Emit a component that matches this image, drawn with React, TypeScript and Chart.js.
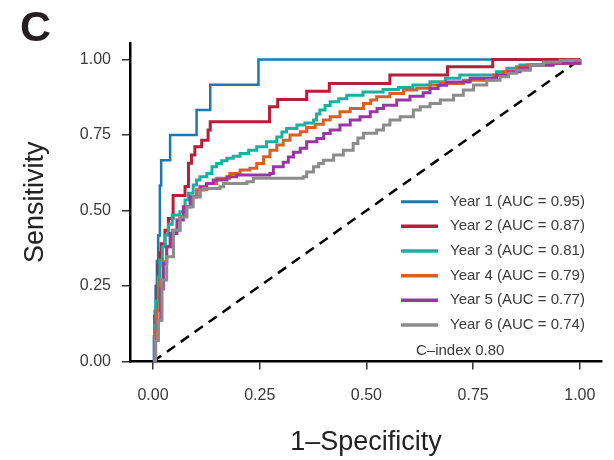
import React, { useEffect, useRef } from 'react';
import { Chart, registerables } from 'chart.js';

Chart.register(...registerables);

const FONT = "'Liberation Sans', Arial, Helvetica, sans-serif";

// ---- data ----
const tickValues = [0, 0.25, 0.5, 0.75, 1];
const xTitle = '1–Specificity';
const yTitle = 'Sensitivity';
const panelLabel = 'C';
const cIndexLabel = 'C–index 0.80';

const seriesLabels = [
  'Year 1 (AUC = 0.95)',
  'Year 2 (AUC = 0.87)',
  'Year 3 (AUC = 0.81)',
  'Year 4 (AUC = 0.79)',
  'Year 5 (AUC = 0.77)',
  'Year 6 (AUC = 0.74)',
];
const seriesColors = ['#1C78AE', '#B51F3A', '#1AAF9F', '#D3612A', '#9A35A2', '#8C8C8C'];

const year1: number[][] = [
  [0, 0], [0.002, 0.083], [0.004, 0.167], [0.006, 0.25], [0.009, 0.333], [0.012, 0.417],
  [0.016, 0.5], [0.016, 0.583], [0.019, 0.667], [0.04, 0.75], [0.102, 0.833], [0.134, 0.917],
  [0.247, 1], [1, 1],
];
const year2: number[][] = [
  [0, 0], [0.004, 0.15], [0.009, 0.25], [0.012, 0.32], [0.016, 0.36], [0.019, 0.39], [0.028, 0.435],
  [0.036, 0.474], [0.047, 0.55], [0.075, 0.58], [0.083, 0.657], [0.09, 0.684], [0.098, 0.711],
  [0.114, 0.733], [0.129, 0.767], [0.134, 0.794], [0.273, 0.844], [0.292, 0.868], [0.36, 0.895],
  [0.413, 0.921], [0.555, 0.949], [0.69, 0.976], [0.796, 1], [1, 1],
];
const year3: number[][] = [
  [0, 0], [0.004, 0.12], [0.007, 0.2], [0.012, 0.28], [0.016, 0.336], [0.022, 0.38], [0.028, 0.419],
  [0.036, 0.455], [0.045, 0.485], [0.063, 0.496], [0.075, 0.535], [0.083, 0.557], [0.094, 0.585],
  [0.102, 0.601], [0.11, 0.612], [0.126, 0.623], [0.138, 0.645], [0.149, 0.656], [0.161, 0.665],
  [0.173, 0.673], [0.188, 0.68], [0.204, 0.689], [0.224, 0.7], [0.243, 0.711], [0.266, 0.728],
  [0.29, 0.744], [0.302, 0.76], [0.313, 0.772], [0.337, 0.783], [0.356, 0.79], [0.376, 0.8],
  [0.383, 0.82], [0.391, 0.833], [0.403, 0.848], [0.415, 0.86], [0.435, 0.87], [0.454, 0.882],
  [0.492, 0.893], [0.539, 0.901], [0.575, 0.908], [0.609, 0.916], [0.649, 0.927], [0.685, 0.938],
  [0.719, 0.949], [0.805, 0.96], [0.829, 0.971], [0.86, 0.982], [0.937, 0.988], [1, 1],
];
const year4: number[][] = [
  [0, 0], [0.005, 0.1], [0.009, 0.17], [0.016, 0.27], [0.024, 0.33], [0.032, 0.38], [0.045, 0.435],
  [0.063, 0.48], [0.079, 0.513], [0.09, 0.545], [0.102, 0.569], [0.126, 0.59], [0.149, 0.607],
  [0.18, 0.623], [0.204, 0.634], [0.227, 0.64], [0.243, 0.656], [0.259, 0.678], [0.274, 0.7],
  [0.29, 0.717], [0.305, 0.733], [0.321, 0.75], [0.345, 0.761], [0.36, 0.775], [0.38, 0.786],
  [0.399, 0.8], [0.415, 0.811], [0.438, 0.827], [0.462, 0.838], [0.493, 0.855], [0.51, 0.866],
  [0.524, 0.877], [0.555, 0.888], [0.587, 0.899], [0.618, 0.905], [0.649, 0.916], [0.673, 0.921],
  [0.727, 0.932], [0.798, 0.949], [0.821, 0.96], [0.852, 0.976], [0.876, 0.982], [0.937, 0.988], [1, 1],
];
const year5: number[][] = [
  [0, 0], [0.006, 0.07], [0.012, 0.137], [0.018, 0.24], [0.024, 0.325], [0.032, 0.38], [0.04, 0.424],
  [0.056, 0.469], [0.071, 0.513], [0.087, 0.546], [0.11, 0.579], [0.125, 0.59], [0.141, 0.601],
  [0.173, 0.612], [0.196, 0.618], [0.274, 0.623], [0.282, 0.645], [0.305, 0.66], [0.317, 0.677],
  [0.329, 0.693], [0.345, 0.706], [0.36, 0.728], [0.384, 0.739], [0.4, 0.755], [0.415, 0.767],
  [0.438, 0.783], [0.462, 0.8], [0.485, 0.811], [0.509, 0.827], [0.525, 0.838], [0.54, 0.849],
  [0.571, 0.866], [0.602, 0.879], [0.633, 0.89], [0.649, 0.904], [0.668, 0.915], [0.688, 0.926],
  [0.743, 0.938], [0.805, 0.949], [0.833, 0.96], [0.86, 0.971], [0.884, 0.982], [0.937, 0.988], [1, 1],
];
const year6: number[][] = [
  [0, 0], [0.006, 0.07], [0.012, 0.137], [0.021, 0.27], [0.032, 0.347], [0.048, 0.435], [0.063, 0.479],
  [0.079, 0.513], [0.094, 0.546], [0.11, 0.568], [0.118, 0.573], [0.157, 0.579], [0.165, 0.59],
  [0.22, 0.595], [0.235, 0.607], [0.352, 0.612], [0.36, 0.628], [0.376, 0.645], [0.388, 0.656],
  [0.399, 0.667], [0.423, 0.684], [0.446, 0.7], [0.469, 0.722], [0.48, 0.74], [0.493, 0.756],
  [0.524, 0.767], [0.54, 0.783], [0.555, 0.8], [0.579, 0.811], [0.61, 0.833], [0.626, 0.844],
  [0.649, 0.855], [0.673, 0.866], [0.704, 0.882], [0.727, 0.899], [0.751, 0.916], [0.782, 0.932],
  [0.813, 0.943], [0.833, 0.955], [0.852, 0.965], [0.884, 0.982], [0.915, 0.992], [0.954, 0.998], [1, 1],
];
const chanceLine: number[][] = [[0, 0], [1, 1]];

export default function App() {
  const ref = useRef<HTMLCanvasElement>(null);

  useEffect(() => {
    const canvas = ref.current;
    if (!canvas) return;
    const series = [year1, year2, year3, year4, year5, year6];
    const datasets: any[] = series.map((s, i) => ({
      label: seriesLabels[i],
      data: s.map(([x, y]) => ({ x, y })),
      showLine: true,
      stepped: 'before',
      borderColor: seriesColors[i],
      backgroundColor: seriesColors[i],
      borderWidth: i === 0 ? 2.5 : 3,
      pointRadius: 0,
      fill: false,
      order: 6 - i,
    }));
    datasets.push({
      label: 'chance',
      data: chanceLine.map(([x, y]) => ({ x, y })),
      showLine: true,
      borderColor: '#000',
      borderWidth: 2.5,
      borderDash: [10, 7],
      pointRadius: 0,
      fill: false,
      order: 7,
    });

    const overlay = {
      id: 'overlay',
      afterDraw(chart: any) {
        const ctx = chart.ctx as CanvasRenderingContext2D;
        ctx.save();
        // legend
        const x0 = 401, x1 = 438, tx = 450, y0 = 201.7, dy = 24.65;
        ctx.font = `15px ${FONT}`;
        ctx.textBaseline = 'middle';
        ctx.textAlign = 'left';
        seriesLabels.forEach((lab, i) => {
          const y = y0 + i * dy;
          ctx.strokeStyle = seriesColors[i];
          ctx.lineWidth = i === 0 ? 3 : 3.5;
          ctx.setLineDash([]);
          ctx.beginPath();
          ctx.moveTo(x0, y);
          ctx.lineTo(x1, y);
          ctx.stroke();
          ctx.fillStyle = '#3a3a3a';
          ctx.fillText(lab, tx, y);
        });
        ctx.font = `15px ${FONT}`;
        ctx.fillStyle = '#3a3a3a';
        ctx.fillText(cIndexLabel, 416, 351);
        // panel label
        ctx.font = `bold 43px ${FONT}`;
        ctx.textBaseline = 'alphabetic';
        ctx.fillStyle = '#231f20';
        ctx.fillText(panelLabel, 20, 41);
        ctx.restore();
      },
    };

    const axisCommon = {
      type: 'linear' as const,
      grid: {
        display: true,
        drawOnChartArea: false,
        drawTicks: true,
        tickLength: 8,
        color: '#333',
        lineWidth: 1.5,
      },
      border: { display: true, color: '#000', width: 2.5 },
      afterBuildTicks: (scale: any) => {
        scale.ticks = tickValues.map((v) => ({ value: v }));
      },
    };

    const chart = new Chart(canvas, {
      type: 'scatter',
      data: { datasets },
      plugins: [overlay],
      options: {
        responsive: false,
        animation: false,
        devicePixelRatio: 1,
        layout: { padding: { top: 43, right: 12, left: 0, bottom: 0 } },
        plugins: { legend: { display: false }, tooltip: { enabled: false } },
        scales: {
          x: {
            ...axisCommon,
            position: 'bottom',
            min: -0.054,
            max: 1.052,
            afterFit: (scale: any) => {
              scale.height = 98.5;
            },
            ticks: {
              autoSkip: false,
              maxRotation: 0,
              padding: 16,
              color: '#3a3a3a',
              font: { family: FONT, size: 16 },
              callback: (v: any) => Number(v).toFixed(2),
            },
            title: {
              display: true,
              text: xTitle,
              color: '#222',
              font: { family: FONT, size: 27 },
              padding: { top: 0, bottom: 1 },
            },
          },
          y: {
            ...axisCommon,
            position: 'left',
            min: 0,
            max: 1.055,
            afterFit: (scale: any) => {
              scale.width = 130;
            },
            ticks: {
              autoSkip: false,
              padding: 11,
              color: '#3a3a3a',
              font: { family: FONT, size: 16 },
              callback: (v: any) => Number(v).toFixed(2),
            },
            title: {
              display: true,
              text: yTitle,
              color: '#222',
              font: { family: FONT, size: 27 },
              padding: { top: 19, bottom: 0 },
            },
          },
        },
      } as any,
    });
    return () => chart.destroy();
  }, []);

  return (
    <div style={{ position: 'fixed', left: 0, top: 0, width: 614, height: 460, background: '#fff' }}>
      <canvas ref={ref} width={614} height={460} style={{ width: 614, height: 460, display: 'block' }} />
    </div>
  );
}
